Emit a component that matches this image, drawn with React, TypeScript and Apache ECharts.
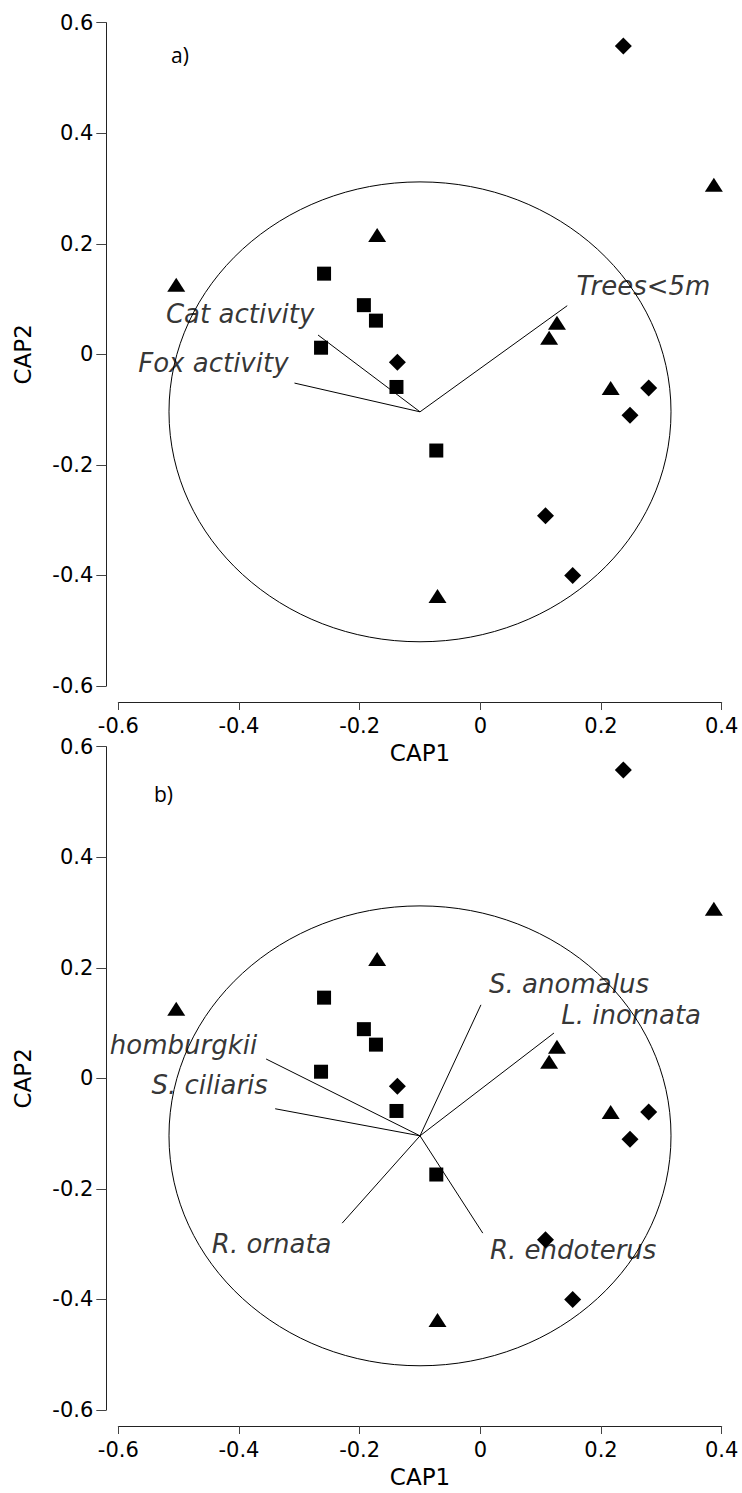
import React, { useEffect, useRef } from "react";
import * as echarts from "echarts";

// ---- data ----
const xTicks = { min: -0.6, max: 0.4, interval: 0.2 };
const yTicks = { min: -0.6, max: 0.6, interval: 0.2 };

const squarePts: number[][] = [
  [-0.259, 0.146], [-0.193, 0.089], [-0.173, 0.061], [-0.264, 0.012], [-0.139, -0.059], [-0.073, -0.174],
];
const diamondPts: number[][] = [
  [0.237, 0.558], [-0.1375, -0.0145], [0.279, -0.061], [0.248, -0.11], [0.108, -0.292], [0.153, -0.4],
];
const trianglePts: number[][] = [
  [0.387, 0.307], [-0.171, 0.216], [-0.504, 0.126], [0.127, 0.057], [0.114, 0.03], [0.216, -0.061], [-0.071, -0.437],
];

const circleCenter = [-0.1, -0.104];
const circleRadius = 0.416;
const vectorOrigin = [-0.1, -0.104];

// panel a) vectors
const vecNamesA = ["Trees<5m", "Cat activity", "Fox activity"];
const vecEndsA: number[][] = [[0.144, 0.088], [-0.269, 0.035], [-0.308, -0.052]];
const vecLabelPosA: number[][] = [[0.1595, 0.124], [-0.521, 0.073], [-0.567, -0.016]];

// panel b) vectors
const vecNamesB = ["S. anomalus", "L. inornata", "homburgkii", "S. ciliaris", "R. ornata", "R. endoterus"];
const vecEndsB: number[][] = [[0.001, 0.133], [0.122, 0.082], [-0.355, 0.035], [-0.34, -0.055], [-0.229, -0.262], [0.004, -0.28]];
const vecLabelPosB: number[][] = [[0.0145, 0.171], [0.134, 0.115], [-0.614, 0.06], [-0.545, -0.012], [-0.445, -0.3], [0.016, -0.31]];

const panelLabels = ["a)", "b)"];

export default function App() {
  const ref = useRef<HTMLDivElement>(null);
  useEffect(() => {
    if (!ref.current) return;
    const chart = echarts.init(ref.current, undefined, { renderer: "svg" });
    const font = "DejaVu Sans";
    const gridTops = [22.7, 746.7];
    const grids = gridTops.map((t) => ({ left: 118.3, width: 603.4, top: t, height: 663.3 }));
    const xAxes = gridTops.map((_, i) => ({
      type: "value",
      gridIndex: i,
      ...xTicks,
      offset: 16,
      name: "CAP1",
      nameLocation: "middle",
      nameGap: 39,
      nameTextStyle: { fontFamily: font, fontSize: 23, color: "#000" },
      axisLine: { show: true, onZero: false, lineStyle: { color: "#222", width: 1 } },
      axisTick: { show: true, length: 8, lineStyle: { color: "#444" } },
      axisLabel: { fontFamily: font, fontSize: 21, color: "#000", margin: 13 },
      splitLine: { show: false },
    }));
    const yAxes = gridTops.map((_, i) => ({
      type: "value",
      gridIndex: i,
      ...yTicks,
      offset: 12,
      name: "CAP2",
      nameLocation: "middle",
      nameGap: 72,
      nameTextStyle: { fontFamily: font, fontSize: 23, color: "#000" },
      axisLine: { show: true, onZero: false, lineStyle: { color: "#222", width: 1 } },
      axisTick: { show: true, length: 10, lineStyle: { color: "#444" } },
      axisLabel: { fontFamily: font, fontSize: 21, color: "#000", margin: 13 },
      splitLine: { show: false },
    }));

    const series: any[] = [];
    [0, 1].forEach((i) => {
      series.push({
        type: "custom",
        xAxisIndex: i,
        yAxisIndex: i,
        data: [[circleCenter[0], circleCenter[1], circleRadius]],
        renderItem: (params: any, api: any) => {
          const c = api.coord([api.value(0), api.value(1)]);
          const r = api.value(2);
          const sx = api.size([r, 0])[0];
          const sy = api.size([0, r])[1];
          return {
            type: "ellipse",
            shape: { cx: c[0], cy: c[1], rx: sx, ry: sy },
            style: { fill: "none", stroke: "#000", lineWidth: 1 },
          };
        },
        silent: true,
        z: 1,
      });
      const ends = i === 0 ? vecEndsA : vecEndsB;
      ends.forEach((e) => {
        series.push({
          type: "line",
          xAxisIndex: i,
          yAxisIndex: i,
          data: [vectorOrigin, e],
          symbol: "none",
          lineStyle: { color: "#000", width: 1 },
          silent: true,
          z: 2,
        });
      });
      series.push({
        type: "scatter", xAxisIndex: i, yAxisIndex: i, data: squarePts,
        symbol: "rect", symbolSize: 14, itemStyle: { color: "#000", opacity: 1 }, z: 3,
      });
      series.push({
        type: "scatter", xAxisIndex: i, yAxisIndex: i, data: diamondPts,
        symbol: "diamond", symbolSize: 17, itemStyle: { color: "#000", opacity: 1 }, z: 3,
      });
      series.push({
        type: "scatter", xAxisIndex: i, yAxisIndex: i, data: trianglePts,
        symbol: "triangle", symbolSize: [18, 14], itemStyle: { color: "#000", opacity: 1 }, z: 3,
      });
      const names = i === 0 ? vecNamesA : vecNamesB;
      const pos = i === 0 ? vecLabelPosA : vecLabelPosB;
      series.push({
        type: "scatter",
        xAxisIndex: i,
        yAxisIndex: i,
        clip: false,
        symbolSize: 0,
        silent: true,
        data: names.map((n, k) => ({ name: n, value: pos[k] })),
        label: {
          show: true,
          position: "right",
          distance: 0,
          formatter: "{b}",
          fontFamily: font,
          fontStyle: "italic",
          fontSize: 26,
          color: "#000",
        },
        z: 4,
      });
    });

    chart.setOption({
      animation: false,
      backgroundColor: "#fff",
      grid: grids,
      xAxis: xAxes,
      yAxis: yAxes,
      series,
      graphic: [
        { type: "text", left: 171, top: 44, style: { text: panelLabels[0], font: "21px 'Open Sans'", fill: "#000" } },
        { type: "text", left: 154, top: 783, style: { text: panelLabels[1], font: "21px 'Open Sans'", fill: "#000" } },
      ],
    });
    return () => chart.dispose();
  }, []);
  return <div ref={ref} style={{ position: "absolute", left: 0, top: 0, width: 742, height: 1493 }} />;
}
